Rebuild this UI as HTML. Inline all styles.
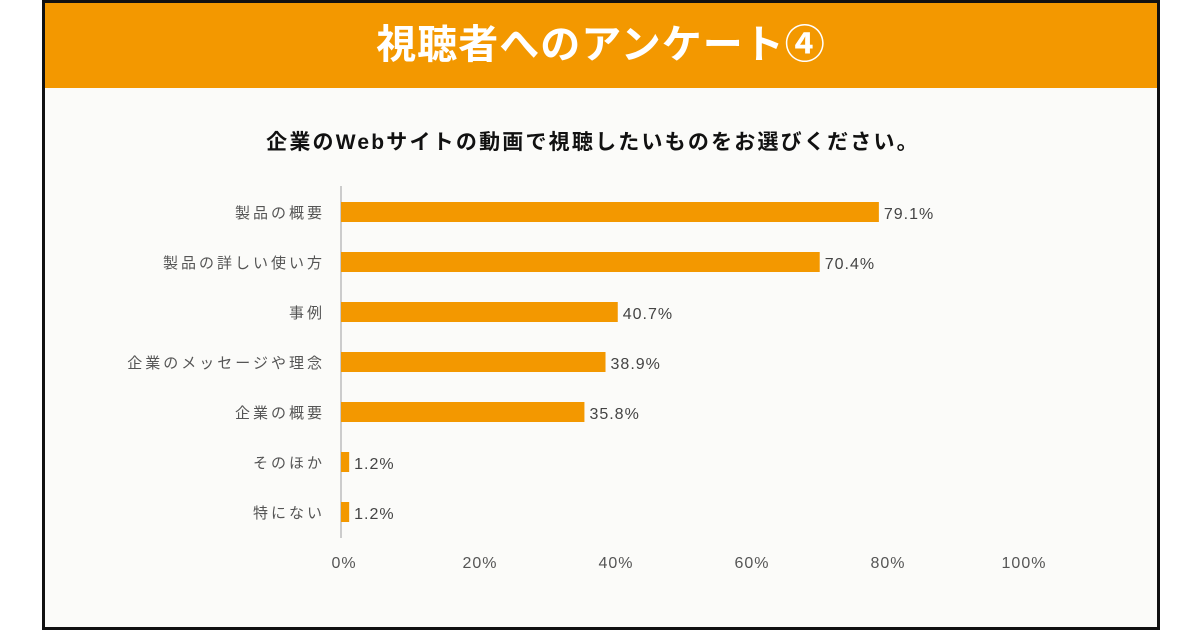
<!DOCTYPE html>
<html><head><meta charset="utf-8"><style>
body{margin:0;width:1200px;height:630px;background:#fff;overflow:hidden;font-family:"Liberation Sans","Noto Sans CJK JP",sans-serif}
#frame{position:absolute;left:42px;top:0;width:1112px;height:624px;border:3px solid #111;background:#fbfbf9}
#header{position:absolute;left:0;top:0;width:1112px;height:85px;background:#f39800;color:#fff;font-size:40px;letter-spacing:1px;font-weight:bold;text-align:center;line-height:85px}
</style></head><body>
<div id="frame">
<div id="header">視聴者へのアンケート④</div>
</div>
<svg id="chart" width="1200" height="630" style="position:absolute;left:0;top:0"></svg>
<script>
const categories=["製品の概要","製品の詳しい使い方","事例","企業のメッセージや理念","企業の概要","そのほか","特にない"];
const values=[79.1,70.4,40.7,38.9,35.8,1.2,1.2];
const ticks=[0,20,40,60,80,100];
const NS="http://www.w3.org/2000/svg",svg=document.getElementById('chart');
const x=v=>341+v*6.8, y=i=>212+i*50;
function mk(t,a,txt){const e=document.createElementNS(NS,t);for(const k in a)e.setAttribute(k,a[k]);if(txt!=null)e.textContent=txt;svg.appendChild(e);return e;}
const title=mk('text',{x:593,y:149,'text-anchor':'middle','font-size':21,'letter-spacing':2.2,'font-weight':'bold',fill:'#111','font-family':'"Liberation Sans","Noto Sans CJK JP",sans-serif'},'企業のWebサイトの動画で視聴したいものをお選びください。');


const ax=mk('line',{x1:341,x2:341,y1:186,y2:538,stroke:'#ccc','stroke-width':2});


categories.forEach((c,i)=>{
 const l=mk('text',{x:325,y:y(i)+6,'text-anchor':'end','font-size':15,'letter-spacing':3,fill:'#555'},c);
 
 
 const b=mk('rect',{x:341,y:y(i)-10,width:x(values[i])-341,height:20,fill:'#f39800'});
 
 
 const v=mk('text',{x:x(values[i])+5,y:y(i)+7,'font-size':16,'letter-spacing':1,fill:'#444'},values[i].toFixed(1)+'%');
 
 
});
ticks.forEach(t=>{
 const e=mk('text',{x:x(t)+3,y:568,'text-anchor':'middle','font-size':16,'letter-spacing':1,fill:'#555'},t+'%');
 
 
});
</script>
</body></html>
